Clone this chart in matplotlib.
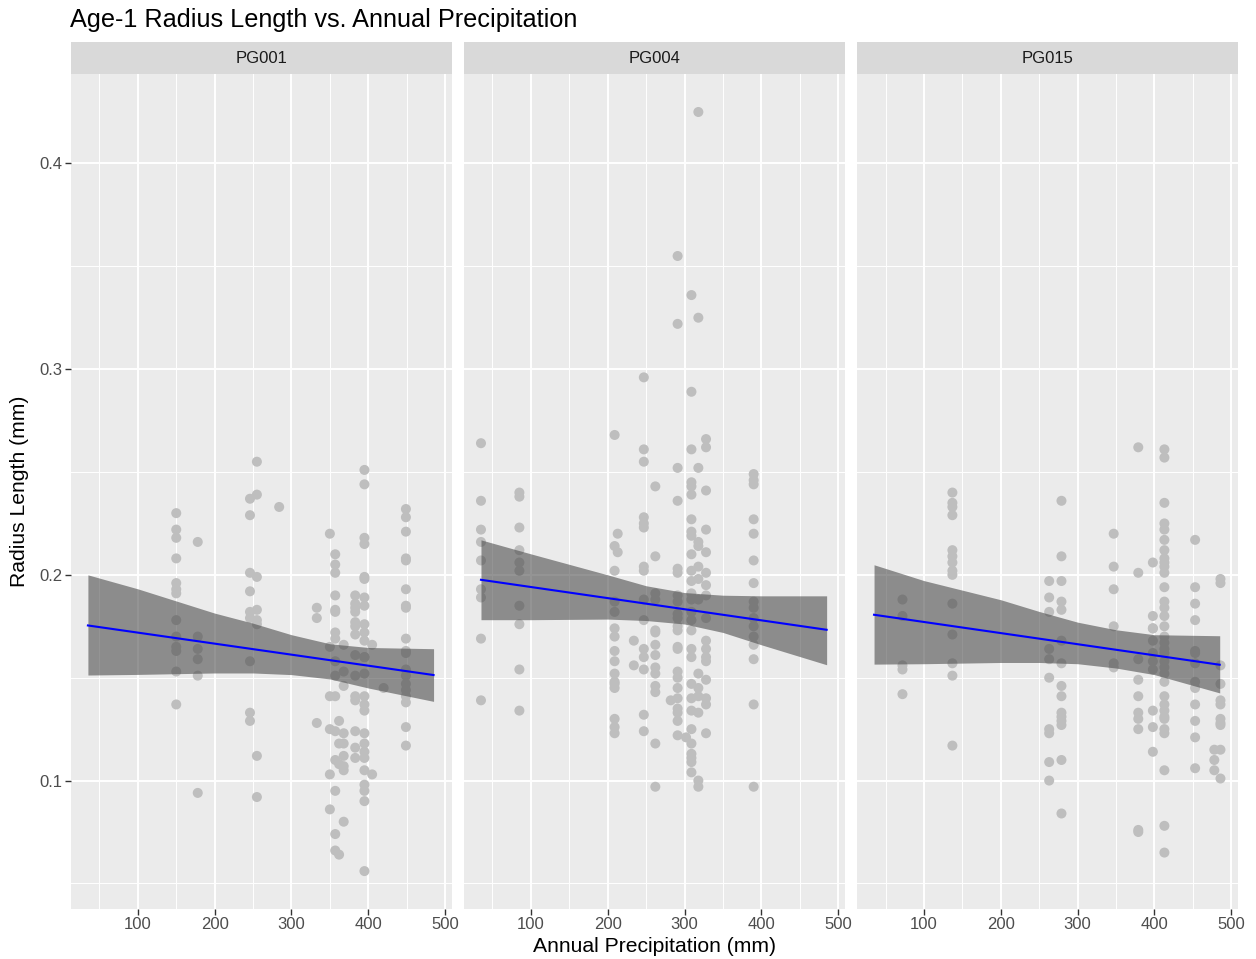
# Age-1 radius length vs annual precipitation, one panel per site (ggplot-like look)

import numpy as np
import matplotlib.pyplot as plt
from matplotlib.patches import Rectangle

plt.rcParams['font.family'] = ['Liberation Sans', 'DejaVu Sans']

sites = ["PG001", "PG004", "PG015"]

# precipitation (mm) of each year column, and the radius lengths (mm) read at it
pg001_x = [150, 178, 246, 255, 284, 333, 350, 357, 362, 368, 383, 395, 405, 420, 449]
pg001_y = [
    [0.230, 0.222, 0.218, 0.208, 0.196, 0.193, 0.191, 0.178, 0.170, 0.165, 0.163, 0.153, 0.137],
    [0.216, 0.170, 0.164, 0.159, 0.151, 0.094],
    [0.237, 0.229, 0.201, 0.192, 0.182, 0.179, 0.158, 0.133, 0.129],
    [0.255, 0.239, 0.199, 0.183, 0.178, 0.176, 0.112, 0.092],
    [0.233],
    [0.184, 0.179, 0.128],
    [0.220, 0.165, 0.141, 0.125, 0.103, 0.086],
    [0.210, 0.205, 0.201, 0.190, 0.183, 0.182, 0.172, 0.169, 0.158, 0.151, 0.141, 0.124,
     0.110, 0.095, 0.074, 0.066],
    [0.129, 0.118, 0.108, 0.064],
    [0.166, 0.153, 0.146, 0.123, 0.118, 0.112, 0.107, 0.105, 0.080],
    [0.190, 0.186, 0.184, 0.182, 0.177, 0.175, 0.171, 0.161, 0.151, 0.141, 0.139, 0.124,
     0.116, 0.111],
    [0.251, 0.244, 0.218, 0.215, 0.199, 0.198, 0.189, 0.185, 0.176, 0.172, 0.168, 0.160,
     0.160, 0.152, 0.141, 0.137, 0.134, 0.123, 0.118, 0.114, 0.111, 0.105, 0.098, 0.095,
     0.090, 0.056],
    [0.166, 0.103],
    [0.145],
    [0.232, 0.228, 0.221, 0.208, 0.207, 0.193, 0.185, 0.184, 0.169, 0.163, 0.162, 0.154,
     0.151, 0.147, 0.144, 0.141, 0.138, 0.126, 0.117],
]

pg004_x = [35, 85, 209, 213, 234, 247, 262, 282, 291, 302, 309, 318, 328, 390]
pg004_y = [
    [0.264, 0.236, 0.222, 0.216, 0.207, 0.193, 0.189, 0.169, 0.139],
    [0.240, 0.238, 0.223, 0.212, 0.206, 0.202, 0.185, 0.176, 0.154, 0.134],
    [0.268, 0.214, 0.202, 0.187, 0.182, 0.174, 0.170, 0.163, 0.158, 0.152, 0.148, 0.147,
     0.145, 0.130, 0.126, 0.123],
    [0.220, 0.211],
    [0.168, 0.156],
    [0.296, 0.261, 0.255, 0.228, 0.225, 0.223, 0.204, 0.202, 0.188, 0.178, 0.164, 0.160,
     0.154, 0.132, 0.124],
    [0.243, 0.209, 0.191, 0.188, 0.173, 0.172, 0.166, 0.161, 0.155, 0.152, 0.146, 0.143,
     0.118, 0.097],
    [0.139],
    [0.355, 0.322, 0.252, 0.236, 0.203, 0.201, 0.190, 0.187, 0.181, 0.179, 0.175, 0.173,
     0.165, 0.164, 0.153, 0.150, 0.145, 0.140, 0.135, 0.133, 0.129, 0.122],
    [0.121],
    [0.336, 0.289, 0.261, 0.245, 0.243, 0.239, 0.227, 0.221, 0.219, 0.210, 0.202, 0.197,
     0.191, 0.188, 0.182, 0.178, 0.173, 0.164, 0.160, 0.147, 0.140, 0.134, 0.125, 0.118,
     0.113, 0.111, 0.109, 0.104],
    [0.425, 0.325, 0.252, 0.216, 0.214, 0.204, 0.198, 0.188, 0.152, 0.145, 0.141, 0.133,
     0.100, 0.097],
    [0.266, 0.262, 0.241, 0.222, 0.211, 0.201, 0.195, 0.190, 0.179, 0.168, 0.164, 0.160,
     0.158, 0.149, 0.140, 0.137, 0.123],
    [0.249, 0.246, 0.244, 0.227, 0.220, 0.207, 0.196, 0.187, 0.184, 0.179, 0.175, 0.170,
     0.166, 0.159, 0.137, 0.097],
]

pg015_x = [72, 137, 263, 279, 347, 379, 398, 413, 453, 478, 486]
pg015_y = [
    [0.188, 0.180, 0.156, 0.154, 0.142],
    [0.240, 0.235, 0.233, 0.229, 0.212, 0.209, 0.206, 0.202, 0.200, 0.186, 0.171, 0.157,
     0.151, 0.117],
    [0.197, 0.189, 0.182, 0.164, 0.159, 0.150, 0.125, 0.123, 0.109, 0.100],
    [0.236, 0.209, 0.197, 0.187, 0.183, 0.168, 0.157, 0.146, 0.141, 0.133, 0.131, 0.129,
     0.127, 0.110, 0.084],
    [0.220, 0.204, 0.193, 0.175, 0.157, 0.155],
    [0.262, 0.201, 0.159, 0.149, 0.141, 0.133, 0.130, 0.125, 0.076, 0.075],
    [0.206, 0.180, 0.174, 0.174, 0.168, 0.162, 0.158, 0.154, 0.134, 0.126, 0.114],
    [0.261, 0.257, 0.235, 0.225, 0.222, 0.217, 0.212, 0.208, 0.206, 0.204, 0.201, 0.194,
     0.187, 0.184, 0.180, 0.175, 0.170, 0.167, 0.164, 0.162, 0.158, 0.155, 0.152, 0.148,
     0.141, 0.137, 0.134, 0.131, 0.130, 0.125, 0.123, 0.105, 0.078, 0.065],
    [0.217, 0.194, 0.186, 0.178, 0.163, 0.162, 0.157, 0.148, 0.145, 0.137, 0.129, 0.121,
     0.106],
    [0.115, 0.110, 0.105],
    [0.198, 0.196, 0.156, 0.147, 0.139, 0.137, 0.130, 0.128, 0.127, 0.115, 0.101],
]

# fitted lm line (ends) and its 95% band
fit_x = [35, 485]
band_x = [35, 100, 200, 250, 300, 350, 400, 485]
pg001_fit = [0.1754, 0.1513]
pg001_lo = [0.1513, 0.1516, 0.1523, 0.1523, 0.1515, 0.1494, 0.1450, 0.1385]
pg001_hi = [0.2000, 0.1932, 0.1814, 0.1765, 0.1709, 0.1665, 0.1647, 0.1641]
pg004_fit = [0.1976, 0.1733]
pg004_lo = [0.1782, 0.1782, 0.1785, 0.1778, 0.1761, 0.1720, 0.1660, 0.1563]
pg004_hi = [0.2170, 0.2102, 0.2000, 0.1947, 0.1914, 0.1901, 0.1898, 0.1898]
pg015_fit = [0.1806, 0.1563]
pg015_lo = [0.1566, 0.1568, 0.1574, 0.1574, 0.1568, 0.1547, 0.1515, 0.1426]
pg015_hi = [0.2049, 0.1972, 0.1879, 0.1822, 0.1770, 0.1733, 0.1709, 0.1704]

x_major = [100, 200, 300, 400, 500]
x_minor = [50, 150, 250, 350, 450]
y_major = [0.1, 0.2, 0.3, 0.4]
y_minor = [0.05, 0.15, 0.25, 0.35]


def flatten(xs, ys):
    px = np.concatenate([np.full(len(v), x, dtype=float) for x, v in zip(xs, ys)])
    py = np.concatenate([np.array(v, dtype=float) for v in ys])
    return px, py


panels = [flatten(pg001_x, pg001_y), flatten(pg004_x, pg004_y), flatten(pg015_x, pg015_y)]
fits = [(pg001_fit, pg001_lo, pg001_hi), (pg004_fit, pg004_lo, pg004_hi),
        (pg015_fit, pg015_lo, pg015_hi)]

# shared scales with ggplot's 5% expansion
all_x = np.concatenate([p[0] for p in panels])
all_y = np.concatenate([p[1] for p in panels])
xmin, xmax = all_x.min(), all_x.max()
ymin, ymax = all_y.min(), all_y.max()
xpad = 0.05 * (xmax - xmin)
ypad = 0.05 * (ymax - ymin)

fig, axes = plt.subplots(1, 3, figsize=(12.56, 9.59), dpi=100, sharey=True)
fig.subplots_adjust(left=0.0562, right=0.9855, bottom=0.0521, top=0.9228, wspace=0.0315)

for i, (ax, site, (px, py), (fit, lo, hi)) in enumerate(zip(axes, sites, panels, fits)):
    ax.set_facecolor('#EBEBEB')
    for sp in ax.spines.values():
        sp.set_visible(False)
    ax.set_axisbelow(True)

    ax.scatter(px, py, s=52, c='#BEBEBE', edgecolors='none', zorder=2)
    ax.fill_between(band_x, lo, hi, color='#4D4D4D', alpha=0.6, linewidth=0, zorder=3)
    ax.plot(fit_x, fit, color='blue', lw=1.5, zorder=4)

    ax.set_xlim(xmin - xpad, xmax + xpad)
    ax.set_ylim(ymin - ypad, ymax + ypad)
    ax.set_xticks(x_major)
    ax.set_xticks(x_minor, minor=True)
    ax.set_yticks(y_major)
    ax.set_yticks(y_minor, minor=True)
    ax.grid(which='major', color='white', lw=1.4)
    ax.grid(which='minor', color='white', lw=0.7)
    ax.tick_params(which='major', length=4, width=1, color='#333333',
                   labelcolor='#4D4D4D', labelsize=12, pad=2)
    ax.tick_params(which='minor', length=0)
    if i > 0:
        ax.tick_params(axis='y', left=False)

    # facet strip
    strip_h = 32 / 835
    ax.add_patch(Rectangle((0, 1), 1, strip_h, transform=ax.transAxes,
                           facecolor='#D9D9D9', edgecolor='none', clip_on=False))
    ax.text(0.5, 1 + strip_h / 2, site, transform=ax.transAxes, ha='center',
            va='center', fontsize=12, color='#1A1A1A')

fig.text(70 / 1256, 1 - 27 / 959, "Age-1 Radius Length vs. Annual Precipitation",
         fontsize=18.2, va='baseline', ha='left')
fig.text(654 / 1256, 1 - 946 / 959, "Annual Precipitation (mm)", fontsize=15.2,
         ha='center', va='center')
fig.text(20 / 1256, 1 - 491 / 959, "Radius Length (mm)", fontsize=15.2,
         ha='center', va='center', rotation=90)

plt.savefig('out.png', dpi=100)
